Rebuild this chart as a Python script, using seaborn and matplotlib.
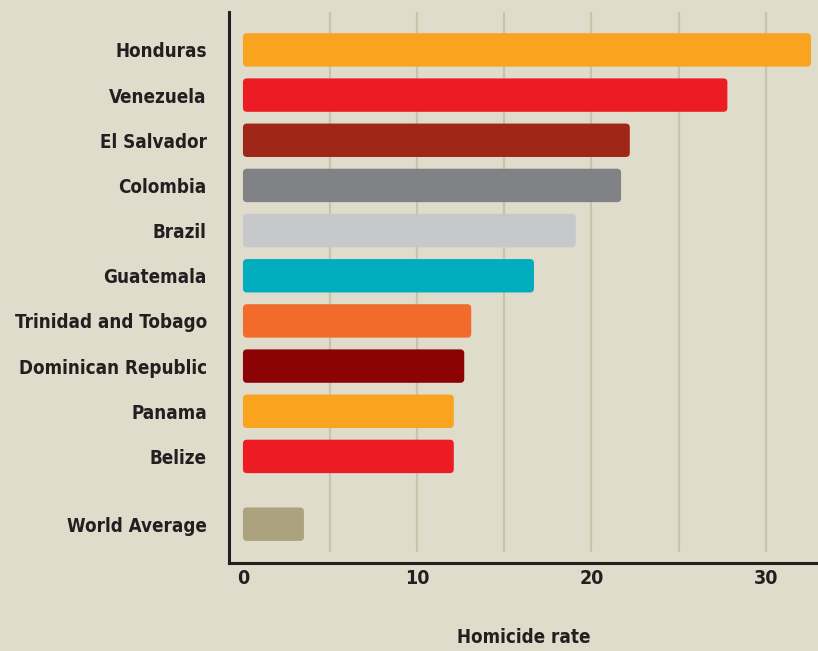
import matplotlib
matplotlib.use("Agg")
import matplotlib.pyplot as plt
import seaborn as sns
import pandas as pd
from matplotlib.patches import FancyBboxPatch

# --- Data ---
countries = ["Honduras", "Venezuela", "El Salvador", "Colombia", "Brazil",
             "Guatemala", "Trinidad and Tobago", "Dominican Republic",
             "Panama", "Belize", "World Average"]
rates = [32.6, 27.8, 22.2, 21.7, 19.1, 16.7, 13.1, 12.7, 12.1, 12.1, 3.5]
positions = [0, 1, 2, 3, 4, 5, 6, 7, 8, 9, 10.5]
colors = ["#f9a31e", "#ed1c24", "#a0261a", "#808285", "#c7c8ca", "#03adc0",
          "#f26b2a", "#8b0304", "#f9a31e", "#ed1c24", "#ada27e"]
xticks = [0, 10, 20, 30]
grid_x = [5, 10, 15, 20, 25, 30]

BG = "#dfdccc"
INK = "#231f20"

df = pd.DataFrame({"country": countries, "rate": rates, "pos": positions})

sns.set_style("white")
plt.rcParams['font.family'] = ['DejaVu Sans']
plt.rcParams['font.stretch'] = 'condensed'

fig = plt.figure(figsize=(8.18, 6.51), dpi=100, facecolor=BG)
ax = fig.add_axes([229 / 818, 1 - 563 / 651, 1 - 229 / 818, 551 / 651])
ax.set_facecolor(BG)

# gridlines behind bars
for gx in grid_x:
    ax.axvline(gx, ymin=0.022, ymax=1, color="#c9c4a9", lw=1.6, zorder=0)

sns.barplot(data=df, x="rate", y="pos", orient="h", native_scale=True,
            width=0.74, palette=colors, hue="pos", legend=False, ax=ax,
            saturation=1, zorder=2)

# swap plain rectangles for rounded ones
xmin, xmax = -0.8, 33.0
ax.set_xlim(xmin, xmax)
ax.set_ylim(11.36, -0.84)
sx = (818 - 229) / (xmax - xmin)
sy = 551 / 12.2
for p in list(ax.patches):
    x0, y0 = p.get_x(), p.get_y()
    w, h = p.get_width(), p.get_height()
    fc = p.get_facecolor()
    p.remove()
    r = 4.0 / sx
    box = FancyBboxPatch((x0 + r, y0 + r * sx / sy), w - 2 * r, h - 2 * r * sx / sy,
                         boxstyle=f"round,pad={r},rounding_size={r}",
                         mutation_aspect=sx / sy,
                         facecolor=fc, edgecolor="none", zorder=2)
    ax.add_patch(box)

ax.set_yticks(positions)
ax.set_yticklabels(countries)
ax.set_xticks(xticks)
ax.tick_params(axis="y", length=0, pad=16, labelsize=13.5, colors=INK)
ax.tick_params(axis="x", length=0, pad=4, labelsize=14, colors=INK)
for t in ax.get_yticklabels() + ax.get_xticklabels():
    t.set_fontweight("bold")

ax.set_ylabel("")
ax.set_xlabel("Homicide rate", fontsize=13.5, fontweight="bold", color=INK,
              labelpad=29)

sns.despine(ax=ax, top=True, right=True)
for s in ["left", "bottom"]:
    ax.spines[s].set_color(INK)
    ax.spines[s].set_linewidth(2.2)

fig.savefig("out.png", dpi=100, facecolor=BG)
